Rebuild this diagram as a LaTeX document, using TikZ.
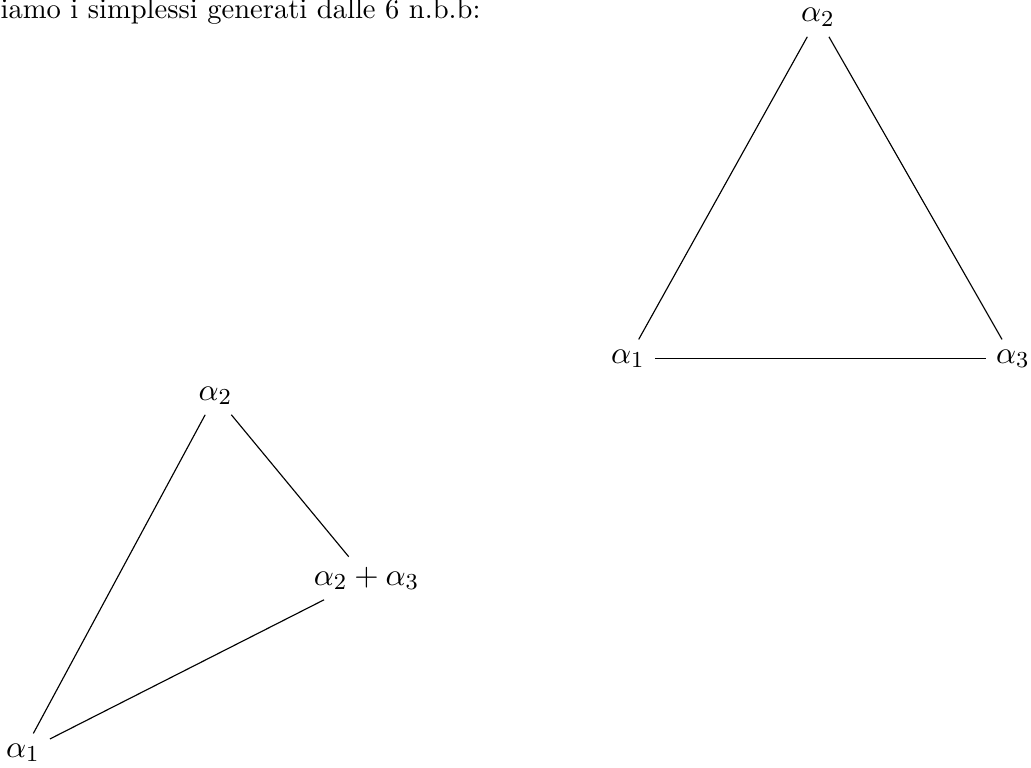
\documentclass[tikz,border=0pt]{standalone}
\begin{document}
\begin{tikzpicture}[x=0.35pt,y=-0.35pt,
  lbl/.style={anchor=base,inner sep=3.33pt,font=\fontsize{11}{13}\selectfont},
  edge/.style={line width=0.4pt}]
\useasboundingbox (0,0) rectangle (1031,768);
\node[anchor=base west,inner sep=0pt] (title) at (0,19) {iamo i simplessi generati dalle 6 n.b.b:};
% top triangle
\node[lbl] (ta2) at (818,22) {$\alpha_2$};
\node[lbl] (ta1) at (628,363) {$\alpha_1$};
\node[lbl] (ta3) at (1013,363) {$\alpha_3$};
\draw[edge] (ta1) -- (ta2);
\draw[edge] (ta2) -- (ta3);
\draw[edge] (ta1) -- (ta3);
% bottom triangle
\node[lbl] (ba2) at (215.5,400) {$\alpha_2$};
\node[lbl] (b23) at (366.5,585) {$\alpha_2+\alpha_3$};
\node[lbl] (ba1) at (23,757) {$\alpha_1$};
\draw[edge] (ba1) -- (ba2);
\draw[edge] (ba2) -- (b23);
\draw[edge] (ba1) -- (b23);
\end{tikzpicture}
\end{document}
